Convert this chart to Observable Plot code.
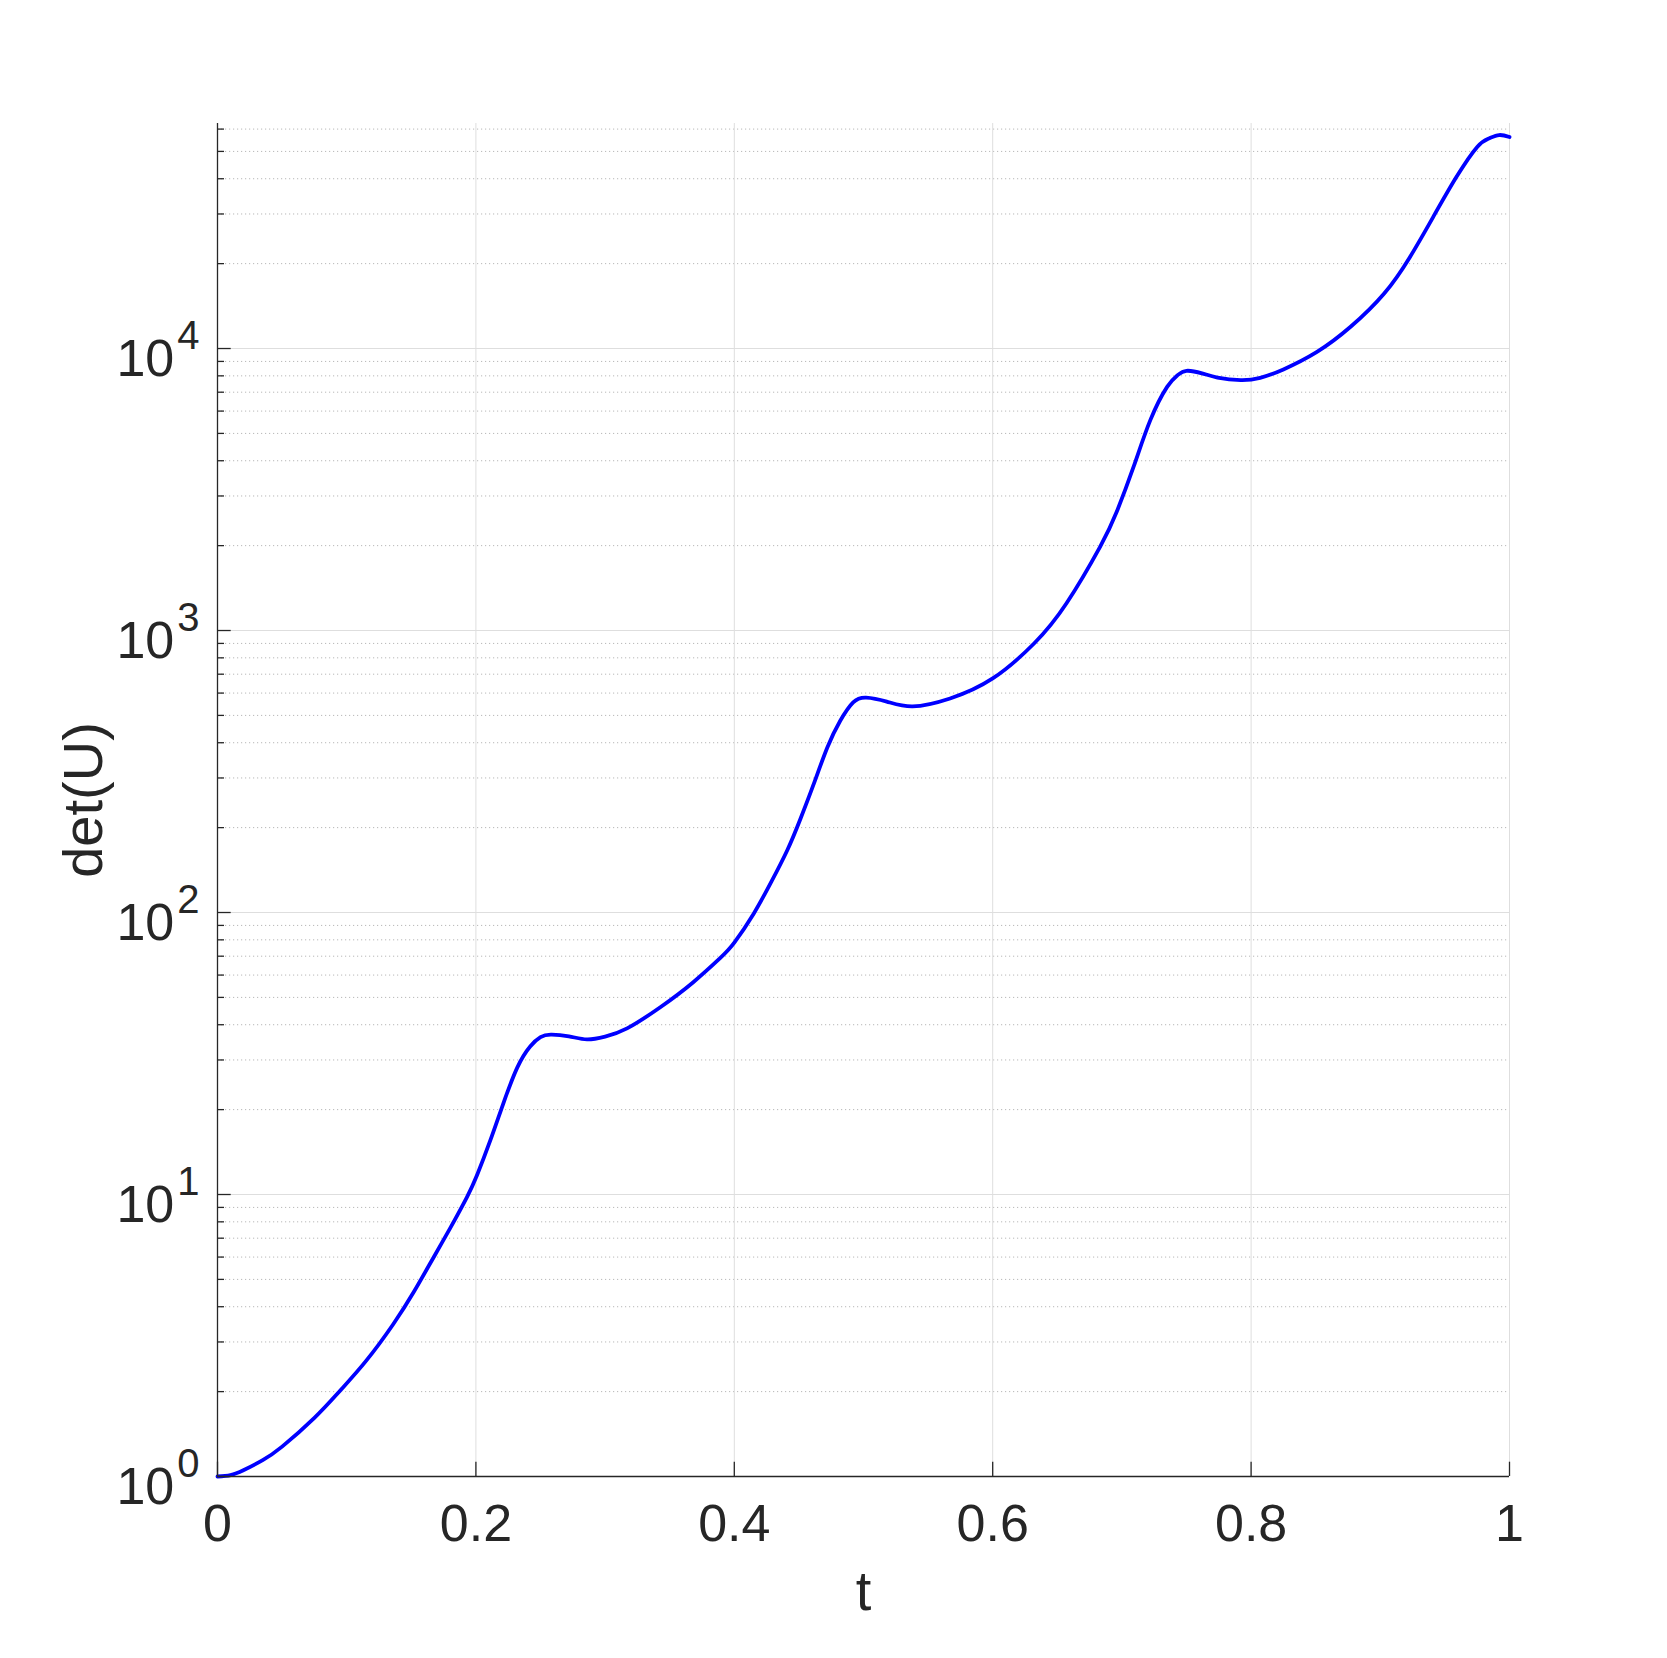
<!DOCTYPE html>
<html><head><meta charset="utf-8">
<script src="https://cdn.jsdelivr.net/npm/d3@7"></script>
<script src="https://cdn.jsdelivr.net/npm/@observablehq/plot@0.6"></script>
<style>body{margin:0;background:#fff;}</style>
</head><body><div id="chart"></div>
<script>
const tValues = [0, 0.010, 0.020, 0.035, 0.050, 0.075, 0.095, 0.115, 0.136, 0.152, 0.167, 0.180, 0.193, 0.201, 0.211, 0.221, 0.232, 0.242, 0.250, 0.258, 0.272, 0.286, 0.300, 0.317, 0.343, 0.368, 0.389, 0.400, 0.415, 0.428, 0.441, 0.451, 0.461, 0.472, 0.482, 0.492, 0.502, 0.518, 0.538, 0.567, 0.600, 0.632, 0.657, 0.683, 0.696, 0.709, 0.722, 0.735, 0.743, 0.750, 0.762, 0.774, 0.792, 0.807, 0.825, 0.851, 0.877, 0.903, 0.923, 0.941, 0.959, 0.975, 0.984, 0.992, 1.000];
const detValues = [1, 1.012, 1.052, 1.143, 1.276, 1.614, 2.018, 2.570, 3.467, 4.519, 5.957, 7.586, 9.772, 11.75, 15.49, 20.89, 28.18, 33.50, 36.14, 36.90, 36.39, 35.48, 36.31, 38.82, 46.24, 56.49, 68.87, 78.16, 99.08, 126.8, 166.3, 213.8, 281.8, 384.6, 478.6, 555.9, 578.1, 559.8, 538.3, 574.1, 676.1, 899.5, 1247, 1977, 2636, 3802, 5572, 7311, 8035, 8337, 8166, 7889, 7727, 7870, 8433, 9727, 11940, 15670, 21130, 29310, 40640, 51880, 55590, 57150, 56230];
const xTicks = [0, 0.2, 0.4, 0.6, 0.8, 1];
const xTickLabels = ["0", "0.2", "0.4", "0.6", "0.8", "1"];
const yMajorTicks = [1, 10, 100, 1000, 10000];
const yTickExponents = ["0", "1", "2", "3", "4"];
const yMinorTicks = [2,3,4,5,6,7,8,9, 20,30,40,50,60,70,80,90, 200,300,400,500,600,700,800,900, 2000,3000,4000,5000,6000,7000,8000,9000, 20000,30000,40000,50000,60000];
const xLabel = "t";
const yLabel = "det(U)";

const data = tValues.map((t, i) => ({t, det: detValues[i]}));
const ink = "#262626";

const plot = Plot.plot({
  width: 1667, height: 1658,
  marginLeft: 217, marginRight: 158, marginTop: 123, marginBottom: 182,
  style: {fontFamily: "'Liberation Sans', Arial, Helvetica, sans-serif", fontSize: "52px", color: ink, background: "#fff", overflow: "visible"},
  x: {domain: [0, 1]},
  y: {type: "log", domain: [1, 62800]},
  marks: [
    Plot.gridY(yMinorTicks, {stroke: "#b8b8b8", strokeOpacity: 1, strokeDasharray: "1.2,2.8", strokeWidth: 1}),
    Plot.gridY(yMajorTicks, {stroke: "#dedede", strokeOpacity: 1, strokeWidth: 1}),
    Plot.gridX(xTicks, {stroke: "#dedede", strokeOpacity: 1, strokeWidth: 1}),
    Plot.line(data, {x: "t", y: "det", stroke: "#0000ff", strokeWidth: 3.8, curve: "natural"}),
    Plot.ruleY([1], {stroke: ink, strokeWidth: 1.3}),
    Plot.ruleX([0], {stroke: ink, strokeWidth: 1.3}),
    Plot.axisY(yMinorTicks, {tickSize: -7, tickFormat: () => "", label: null, stroke: ink, strokeWidth: 1.3}),
    Plot.axisY(yMajorTicks, {tickSize: -13.7, tickFormat: () => "", label: null, stroke: ink, strokeWidth: 1.3}),
    Plot.axisY(yMajorTicks, {tickSize: 0, tickPadding: 18, tickFormat: d => yTickExponents[yMajorTicks.indexOf(d)], label: null, fill: ink, fontSize: 52}),
    Plot.axisX(xTicks, {tickSize: -14.3, tickFormat: () => "", label: null, stroke: ink, strokeWidth: 1.3}),
    Plot.axisX(xTicks, {tickSize: 0, tickPadding: 28, tickFormat: d => xTickLabels[xTicks.indexOf(d)], label: null, fill: ink, fontSize: 52}),
    Plot.text([xLabel], {frameAnchor: "bottom", textAnchor: "middle", lineAnchor: "middle", dy: 116, fontSize: 56, fill: ink}),
    Plot.text([yLabel], {frameAnchor: "left", textAnchor: "middle", lineAnchor: "middle", dx: -133, rotate: -90, fontSize: 56, fill: ink})
  ]
});

d3.select(plot).selectAll('g[aria-label="y-axis tick label"] text').each(function () {
  const el = d3.select(this);
  const exp = el.text();
  if (!exp) return;
  el.text(null).attr("y", 27).attr("dy", null);
  el.append("tspan").attr("font-size", 52).text("10");
  el.append("tspan").attr("font-size", 40).attr("dx", 3).attr("dy", -27).text(exp);
});

document.getElementById("chart").appendChild(plot);
</script>
</body></html>
